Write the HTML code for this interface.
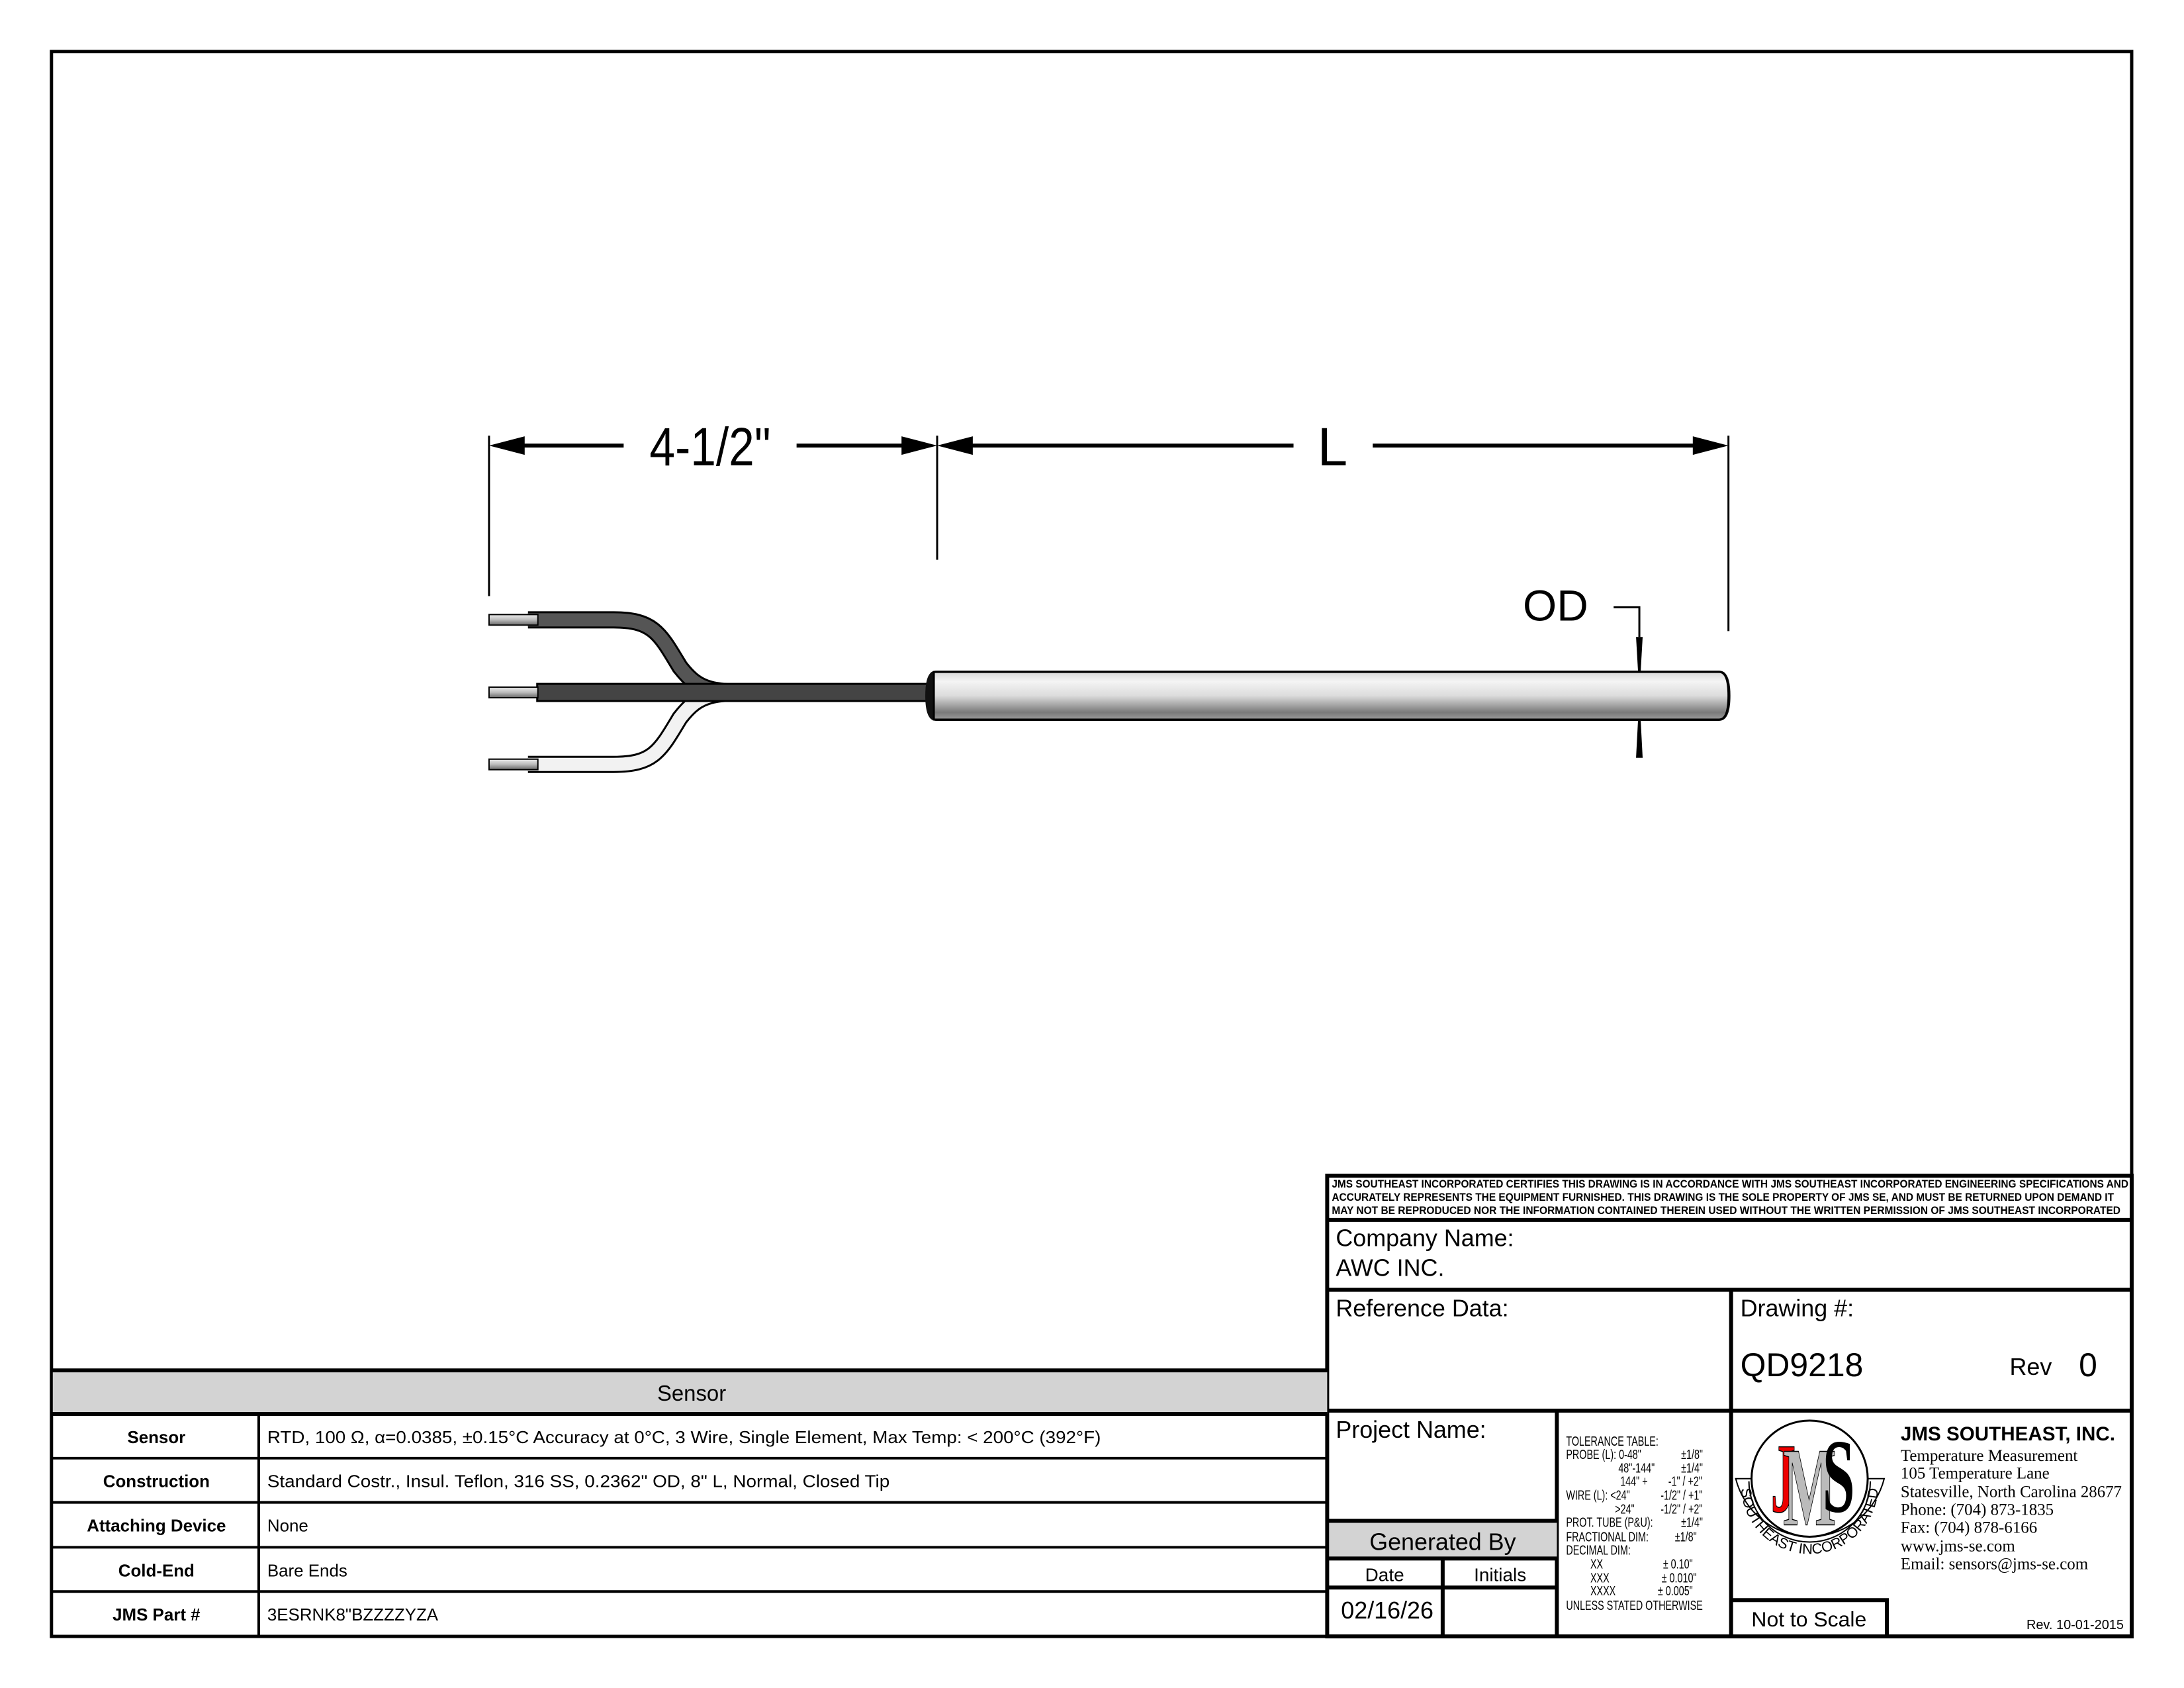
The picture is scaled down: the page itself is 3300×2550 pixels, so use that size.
<!DOCTYPE html>
<html><head><meta charset="utf-8"><style>
html,body{margin:0;padding:0;background:#fff;}
svg{display:block;}
text{font-family:"Liberation Sans",sans-serif;}
.serif text, text.serif{font-family:"Liberation Serif",serif;}
</style></head><body>
<svg width="3300" height="2550" viewBox="0 0 3300 2550" xmlns="http://www.w3.org/2000/svg">
<defs>
<linearGradient id="tube" x1="0" y1="0" x2="0" y2="1">
<stop offset="0" stop-color="#d8d8d8"/><stop offset="0.2" stop-color="#f4f4f4"/><stop offset="0.5" stop-color="#dcdcdc"/><stop offset="0.85" stop-color="#7a7a7a"/><stop offset="1" stop-color="#9a9a9a"/>
</linearGradient>
<linearGradient id="tip" x1="0" y1="0" x2="0" y2="1">
<stop offset="0" stop-color="#eee"/><stop offset="0.5" stop-color="#bbb"/><stop offset="1" stop-color="#666"/>
</linearGradient>
</defs>
<g transform="scale(0.9972)">
<!-- frame -->
<rect x="78" y="78" width="3152" height="2401" fill="none" stroke="#000" stroke-width="5"/>

<!-- dimension lines -->
<g stroke="#000" stroke-width="3">
<line x1="741" y1="660" x2="741" y2="903"/>
<line x1="1420" y1="660" x2="1420" y2="848"/>
<line x1="2619" y1="660" x2="2619" y2="956"/>
</g>
<g stroke="#000" stroke-width="6">
<line x1="790" y1="675" x2="945" y2="675"/>
<line x1="1207" y1="675" x2="1370" y2="675"/>
<line x1="1468" y1="675" x2="1960" y2="675"/>
<line x1="2080" y1="675" x2="2570" y2="675"/>
</g>
<g fill="#000">
<polygon points="741,675 795,661 795,689"/>
<polygon points="1420,675 1366,661 1366,689"/>
<polygon points="1420,675 1474,661 1474,689"/>
<polygon points="2619,675 2565,661 2565,689"/>
</g>
<text x="1076" y="705" font-size="82" text-anchor="middle" transform="translate(1076 0) scale(0.85 1) translate(-1076 0)">4-1/2"</text>
<text x="2019" y="705" font-size="82" text-anchor="middle">L</text>

<!-- OD -->
<text x="2357" y="940" font-size="66" text-anchor="middle">OD</text>
<polyline points="2445,920 2484,920 2484,965" fill="none" stroke="#000" stroke-width="3"/>
<polygon points="2479,965 2489,965 2486,1017 2482,1017" fill="#000"/>
<polygon points="2482,1091 2486,1091 2489,1148 2479,1148" fill="#000"/>

<!-- wires -->
<path d="M800,939 L930,939 C990,939 1000,960 1030,1010 C1060,1049 1080,1049 1160,1049" fill="none" stroke="#000" stroke-width="26"/>
<path d="M800,939 L930,939 C990,939 1000,960 1030,1010 C1060,1049 1080,1049 1160,1049" fill="none" stroke="#555" stroke-width="20"/>
<path d="M800,1158 L930,1158 C990,1158 1000,1138 1030,1088 C1060,1049 1080,1049 1160,1049" fill="none" stroke="#000" stroke-width="26"/>
<path d="M800,1158 L930,1158 C990,1158 1000,1138 1030,1088 C1060,1049 1080,1049 1160,1049" fill="none" stroke="#f2f2f2" stroke-width="20"/>
<rect x="814" y="1036" width="600" height="26" fill="#444" stroke="#000" stroke-width="3"/>
<rect x="741" y="931" width="74" height="16" fill="url(#tip)" stroke="#000" stroke-width="2"/>
<rect x="741" y="1041" width="74" height="16" fill="url(#tip)" stroke="#000" stroke-width="2"/>
<rect x="741" y="1150" width="74" height="16" fill="url(#tip)" stroke="#000" stroke-width="2"/>
<!-- probe -->
<path d="M1418,1016 L2605,1016 Q2622,1016 2622,1054 Q2622,1092 2605,1092 L1418,1092 Q1402,1092 1402,1054 Q1402,1016 1418,1016 Z" fill="#111"/>
<path d="M1415,1018 L2605,1018 Q2619,1018 2619,1054 Q2619,1090 2605,1090 L1415,1090 Z" fill="url(#tube)" stroke="#000" stroke-width="3"/>

<!-- ===== title block ===== -->
<g stroke="#000" stroke-width="6" fill="none">
<rect x="2011" y="1781" width="1219" height="698"/>
<line x1="2011" y1="1848" x2="3230" y2="1848"/>
<line x1="2011" y1="1954" x2="3230" y2="1954"/>
<line x1="2011" y1="2137" x2="3230" y2="2137"/>
<line x1="2623" y1="1954" x2="2623" y2="2479"/>
<line x1="2359" y1="2137" x2="2359" y2="2479"/>
</g>
<rect x="2014" y="2306" width="345" height="54" fill="#d3d3d3"/>
<g stroke="#000" stroke-width="6" fill="none">
<line x1="2011" y1="2304" x2="2359" y2="2304"/>
<line x1="2011" y1="2361" x2="2359" y2="2361"/>
<line x1="2011" y1="2405" x2="2359" y2="2405"/>
<line x1="2186" y1="2361" x2="2186" y2="2479"/>
<polyline points="2623,2424 2859,2424 2859,2479"/>
</g>
<g font-weight="bold" font-size="17">
<text x="2018" y="1799" textLength="1207" lengthAdjust="spacingAndGlyphs">JMS SOUTHEAST INCORPORATED CERTIFIES THIS DRAWING IS IN ACCORDANCE WITH JMS SOUTHEAST INCORPORATED ENGINEERING SPECIFICATIONS AND</text>
<text x="2018" y="1819" textLength="1185" lengthAdjust="spacingAndGlyphs">ACCURATELY REPRESENTS THE EQUIPMENT FURNISHED.  THIS DRAWING IS THE SOLE PROPERTY OF JMS SE, AND MUST BE RETURNED UPON DEMAND IT</text>
<text x="2018" y="1839" textLength="1195" lengthAdjust="spacingAndGlyphs">MAY NOT BE REPRODUCED NOR THE INFORMATION CONTAINED THEREIN USED WITHOUT THE WRITTEN PERMISSION OF JMS SOUTHEAST INCORPORATED</text>
</g>
<g font-size="36">
<text x="2024" y="1888">Company Name:</text>
<text x="2024" y="1933">AWC INC.</text>
<text x="2024" y="1994">Reference Data:</text>
<text x="2637" y="1994">Drawing #:</text>
<text x="2637" y="2085" font-size="50">QD9218</text>
<text x="3045" y="2083">Rev</text>
<text x="3150" y="2085" font-size="50">0</text>
<text x="2024" y="2178">Project Name:</text>
<text x="2186" y="2348" text-anchor="middle">Generated By</text>
<text x="2098" y="2395" font-size="28" text-anchor="middle">Date</text>
<text x="2273" y="2395" font-size="28" text-anchor="middle">Initials</text>
<text x="2032" y="2452">02/16/26</text>
<text x="2741" y="2464" font-size="32" text-anchor="middle">Not to Scale</text>
</g>
<!-- tolerance -->
<g font-size="20" transform="translate(2373 0) scale(0.72 1)">
<text x="0" y="2190">TOLERANCE TABLE:</text>
<text x="0" y="2210">PROBE (L): 0-48"</text><text x="242" y="2210">±1/8"</text>
<text x="110" y="2231">48"-144"</text><text x="242" y="2231">±1/4"</text>
<text x="114" y="2251">144" +</text><text x="215" y="2251">-1" / +2"</text>
<text x="0" y="2272">WIRE (L): &lt;24"</text><text x="199" y="2272">-1/2" / +1"</text>
<text x="103" y="2293">&gt;24"</text><text x="199" y="2293">-1/2" / +2"</text>
<text x="0" y="2313">PROT. TUBE (P&amp;U):</text><text x="242" y="2313">±1/4"</text>
<text x="0" y="2335">FRACTIONAL DIM:</text><text x="229" y="2335">±1/8"</text>
<text x="0" y="2355">DECIMAL DIM:</text>
<text x="51" y="2376">XX</text><text x="204" y="2376">± 0.10"</text>
<text x="51" y="2397">XXX</text><text x="201" y="2397">± 0.010"</text>
<text x="51" y="2417">XXXX</text><text x="193" y="2417">± 0.005"</text>
<text x="0" y="2439">UNLESS STATED OTHERWISE</text>
</g>
<!-- logo -->
<path d="M2630,2240 L2855,2240 A116,116 0 0 1 2630,2240 Z" fill="#fff" stroke="#000" stroke-width="2"/>
<circle cx="2742" cy="2240" r="88" fill="#fff" stroke="#000" stroke-width="3"/>
<path d="M2650,2244 A92,92 0 0 0 2834,2244" fill="none" stroke="#000" stroke-width="2"/>
<path id="ring" d="M2638,2250 A104,104 0 0 0 2846,2250" fill="none"/>
<text font-size="22"><textPath href="#ring" startOffset="50%" text-anchor="middle">SOUTHEAST INCORPORATED</textPath></text>
<text x="2702" y="2290" font-size="150" font-weight="bold" fill="#e00" stroke="#000" stroke-width="1.5" text-anchor="middle" class="serif" transform="translate(2702 0) scale(0.5 1) translate(-2702 0)">J</text>
<text x="2742" y="2310" font-size="170" font-weight="bold" fill="#bbb" stroke="#000" stroke-width="1.5" text-anchor="middle" class="serif" transform="translate(2742 0) scale(0.5 1) translate(-2742 0)">M</text>
<text x="2786" y="2290" font-size="160" font-weight="bold" fill="#000" text-anchor="middle" class="serif" transform="translate(2786 0) scale(0.55 1) translate(-2786 0)">S</text>
<!-- company info -->
<text x="2880" y="2182" font-size="30" font-weight="bold" textLength="325" lengthAdjust="spacingAndGlyphs">JMS SOUTHEAST, INC.</text>
<g class="serif" font-size="25">
<text x="2880" y="2213">Temperature Measurement</text>
<text x="2880" y="2240">105 Temperature Lane</text>
<text x="2880" y="2268" textLength="335" lengthAdjust="spacingAndGlyphs">Statesville, North Carolina 28677</text>
<text x="2880" y="2295">Phone: (704) 873-1835</text>
<text x="2880" y="2322">Fax: (704) 878-6166</text>
<text x="2880" y="2350">www.jms-se.com</text>
<text x="2880" y="2377">Email: sensors@jms-se.com</text>
</g>
<text x="3218" y="2468" font-size="20" text-anchor="end">Rev. 10-01-2015</text>

<!-- ===== sensor table ===== -->
<rect x="80" y="2078" width="1931" height="64" fill="#d3d3d3"/>
<g stroke="#000" stroke-width="6" fill="none">
<line x1="78" y1="2076" x2="2011" y2="2076"/>
<line x1="78" y1="2142" x2="2011" y2="2142"/>
</g>
<g stroke="#000" stroke-width="4">
<line x1="78" y1="2209" x2="2011" y2="2209"/>
<line x1="78" y1="2276" x2="2011" y2="2276"/>
<line x1="78" y1="2344" x2="2011" y2="2344"/>
<line x1="78" y1="2411" x2="2011" y2="2411"/>
<line x1="392" y1="2142" x2="392" y2="2479"/>
</g>
<text x="1048" y="2122" font-size="33" text-anchor="middle">Sensor</text>
<g font-size="26" font-weight="bold" text-anchor="middle">
<text x="237" y="2186">Sensor</text>
<text x="237" y="2253">Construction</text>
<text x="237" y="2320">Attaching Device</text>
<text x="237" y="2388">Cold-End</text>
<text x="237" y="2455">JMS Part #</text>
</g>
<g font-size="26">
<text x="405" y="2186" textLength="1263" lengthAdjust="spacingAndGlyphs">RTD, 100 Ω, α=0.0385, ±0.15°C Accuracy at 0°C, 3 Wire, Single Element, Max Temp: &lt;  200°C (392°F)</text>
<text x="405" y="2253" textLength="943" lengthAdjust="spacingAndGlyphs">Standard Costr., Insul. Teflon, 316 SS, 0.2362" OD, 8" L,  Normal, Closed Tip</text>
<text x="405" y="2320">None</text>
<text x="405" y="2388">Bare Ends</text>
<text x="405" y="2455">3ESRNK8"BZZZZYZA</text>
</g>
</g>
</svg>
</body></html>
